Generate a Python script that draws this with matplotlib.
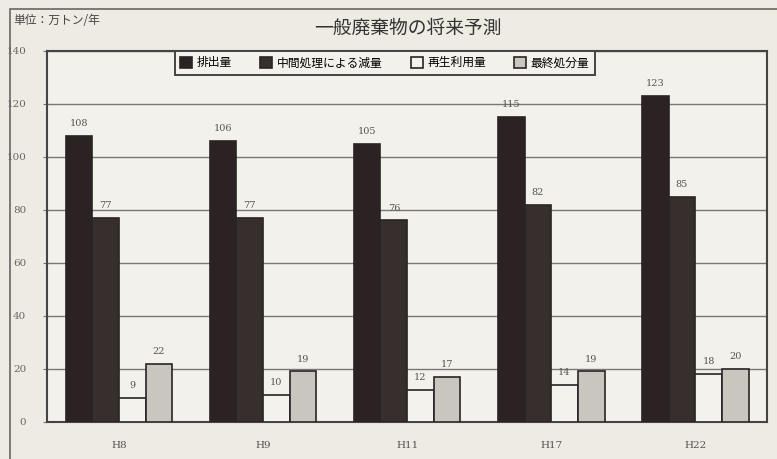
import matplotlib.pyplot as plt
from matplotlib.patches import Rectangle
import numpy as np

plt.rcParams['font.family'] = ['Noto Sans CJK JP', 'DejaVu Sans']

years = ["H8", "H9", "H11", "H17", "H22"]
series_names = ["排出量", "中間処理による減量", "再生利用量", "最終処分量"]
haishutsu = [108, 106, 105, 115, 123]
chukan = [77, 77, 76, 82, 85]
saisei = [9, 10, 12, 14, 18]
saishu = [22, 19, 17, 19, 20]

series = [haishutsu, chukan, saisei, saishu]
colors = ["#2b2323", "#372e2e", "#f4f2ec", "#c9c6bf"]

fig = plt.figure(figsize=(7.77, 4.59), dpi=100)
fig.patch.set_facecolor("#eeebe2")
ax = fig.add_axes([0.0605, 0.081, 0.927, 0.808])
ax.set_facecolor("#f3f1eb")

# outer frame of the picture
fig.patches.append(Rectangle((0.013, -0.02), 0.99, 1.0, transform=fig.transFigure,
                             fill=False, edgecolor="#666", linewidth=1.2))

x = np.arange(len(years))
w = 0.185
for i, (vals, c) in enumerate(zip(series, colors)):
    pos = x + (i - 1.5) * w
    ax.bar(pos, vals, width=w, color=c, edgecolor="#2a2424", linewidth=1.2,
           label=series_names[i], zorder=3)
    for p, v in zip(pos, vals):
        ax.text(p, v + 3, str(v), ha="center", va="bottom", fontsize=7,
                color="#555", family="DejaVu Serif")

ax.set_xlim(-0.5, 4.5)
ax.set_ylim(0, 140)
ax.set_yticks(range(0, 141, 20))
ax.set_xticks(x)
ax.set_xticklabels(years, family="DejaVu Serif", fontsize=7.5, color="#555")
ax.tick_params(axis="x", length=0, pad=14)
ax.tick_params(axis="y", length=3, labelsize=7.5, labelcolor="#666", pad=12,
               color="#777")
for t in ax.get_yticklabels():
    t.set_family("DejaVu Serif")
ax.yaxis.grid(True, color="#777", linewidth=1, zorder=0)
for s in ax.spines.values():
    s.set_color("#444")
    s.set_linewidth(1.5)

leg = ax.legend(loc="upper center", bbox_to_anchor=(0.469, 1.0), ncol=4,
                fontsize=8.5, frameon=True, fancybox=False, handlelength=1.0,
                handleheight=1.0, handletextpad=0.4, columnspacing=2.4,
                borderpad=0.45, borderaxespad=0)
leg.get_frame().set_edgecolor("#444")
leg.get_frame().set_linewidth(1.4)
leg.get_frame().set_facecolor("#f3f1eb")
leg.get_frame().set_alpha(1)

fig.text(0.525, 0.939, "一般廃棄物の将来予測", ha="center", va="center",
         fontsize=13.5, color="#333")
fig.text(0.017, 0.955, "単位：万トン/年", ha="left", va="center",
         fontsize=8.5, color="#444")

fig.savefig("out.png", dpi=100, facecolor=fig.get_facecolor())
